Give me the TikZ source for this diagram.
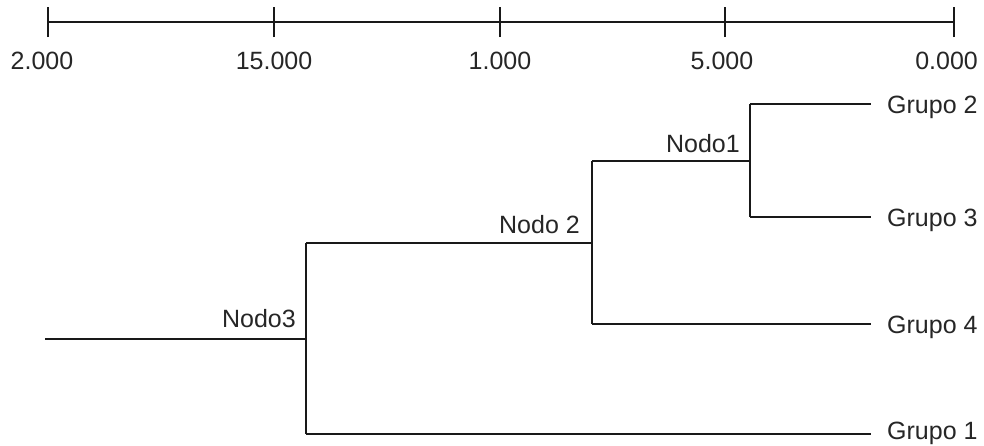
\documentclass[tikz,border=0pt]{standalone}
\usepackage{fontspec}
\setmainfont{Liberation Sans}
\begin{document}
\begin{tikzpicture}[x=1pt,y=-1pt,
  link/.style={line width=2.3pt,draw=black!90,line cap=butt},
  lbl/.style={inner sep=0pt,text=black!85,font=\fontsize{25}{30}\selectfont}]
\useasboundingbox (0,0) rectangle (984,445);
% axis
\coordinate (a0) at (48,22);
\coordinate (a1) at (274,22);
\coordinate (a2) at (500,22);
\coordinate (a3) at (725,22);
\coordinate (a4) at (954,22);
\draw[link] (a0) -- (a4);
\foreach \c in {a0,a1,a2,a3,a4} \draw[link] ([yshift=-15pt]\c) -- ([yshift=15pt]\c);
\node[lbl,anchor=base] (t0) at (42,69) {2.000};
\node[lbl,anchor=base] (t1) at (274,69) {15.000};
\node[lbl,anchor=base] (t2) at (500,69) {1.000};
\node[lbl,anchor=base] (t3) at (722,69) {5.000};
\node[lbl,anchor=base east] (t4) at (978,69) {0.000};
% dendrogram coordinates
\coordinate (root) at (45,339);
\coordinate (n3) at (306,339);
\coordinate (n3t) at (306,243);
\coordinate (n3b) at (306,434);
\coordinate (n2) at (592,243);
\coordinate (n2t) at (592,161);
\coordinate (n2b) at (592,324);
\coordinate (n1) at (750,161);
\coordinate (n1t) at (750,104);
\coordinate (n1b) at (750,217);
\coordinate (g1) at (871,434);
\coordinate (g2) at (871,104);
\coordinate (g3) at (871,217);
\coordinate (g4) at (871,324);
\draw[link] (root) -- (n3);
\draw[link] (n3t) -- (n3b);
\draw[link] (n3t) -- (n2);
\draw[link] (n3b) -- (g1);
\draw[link] (n2t) -- (n2b);
\draw[link] (n2t) -- (n1);
\draw[link] (n2b) -- (g4);
\draw[link] (n1t) -- (n1b);
\draw[link] (n1t) -- (g2);
\draw[link] (n1b) -- (g3);
% labels
\node[lbl,anchor=base east] (l3) at (296,327) {Nodo3};
\node[lbl,anchor=base east] (l2) at (580,233) {Nodo 2};
\node[lbl,anchor=base east] (l1) at (740,152) {Nodo1};
\node[lbl,anchor=base west] (lg2) at (887,113) {Grupo 2};
\node[lbl,anchor=base west] (lg3) at (887,226) {Grupo 3};
\node[lbl,anchor=base west] (lg4) at (887,333) {Grupo 4};
\node[lbl,anchor=base west] (lg1) at (887,439) {Grupo 1};
\end{tikzpicture}
\end{document}
